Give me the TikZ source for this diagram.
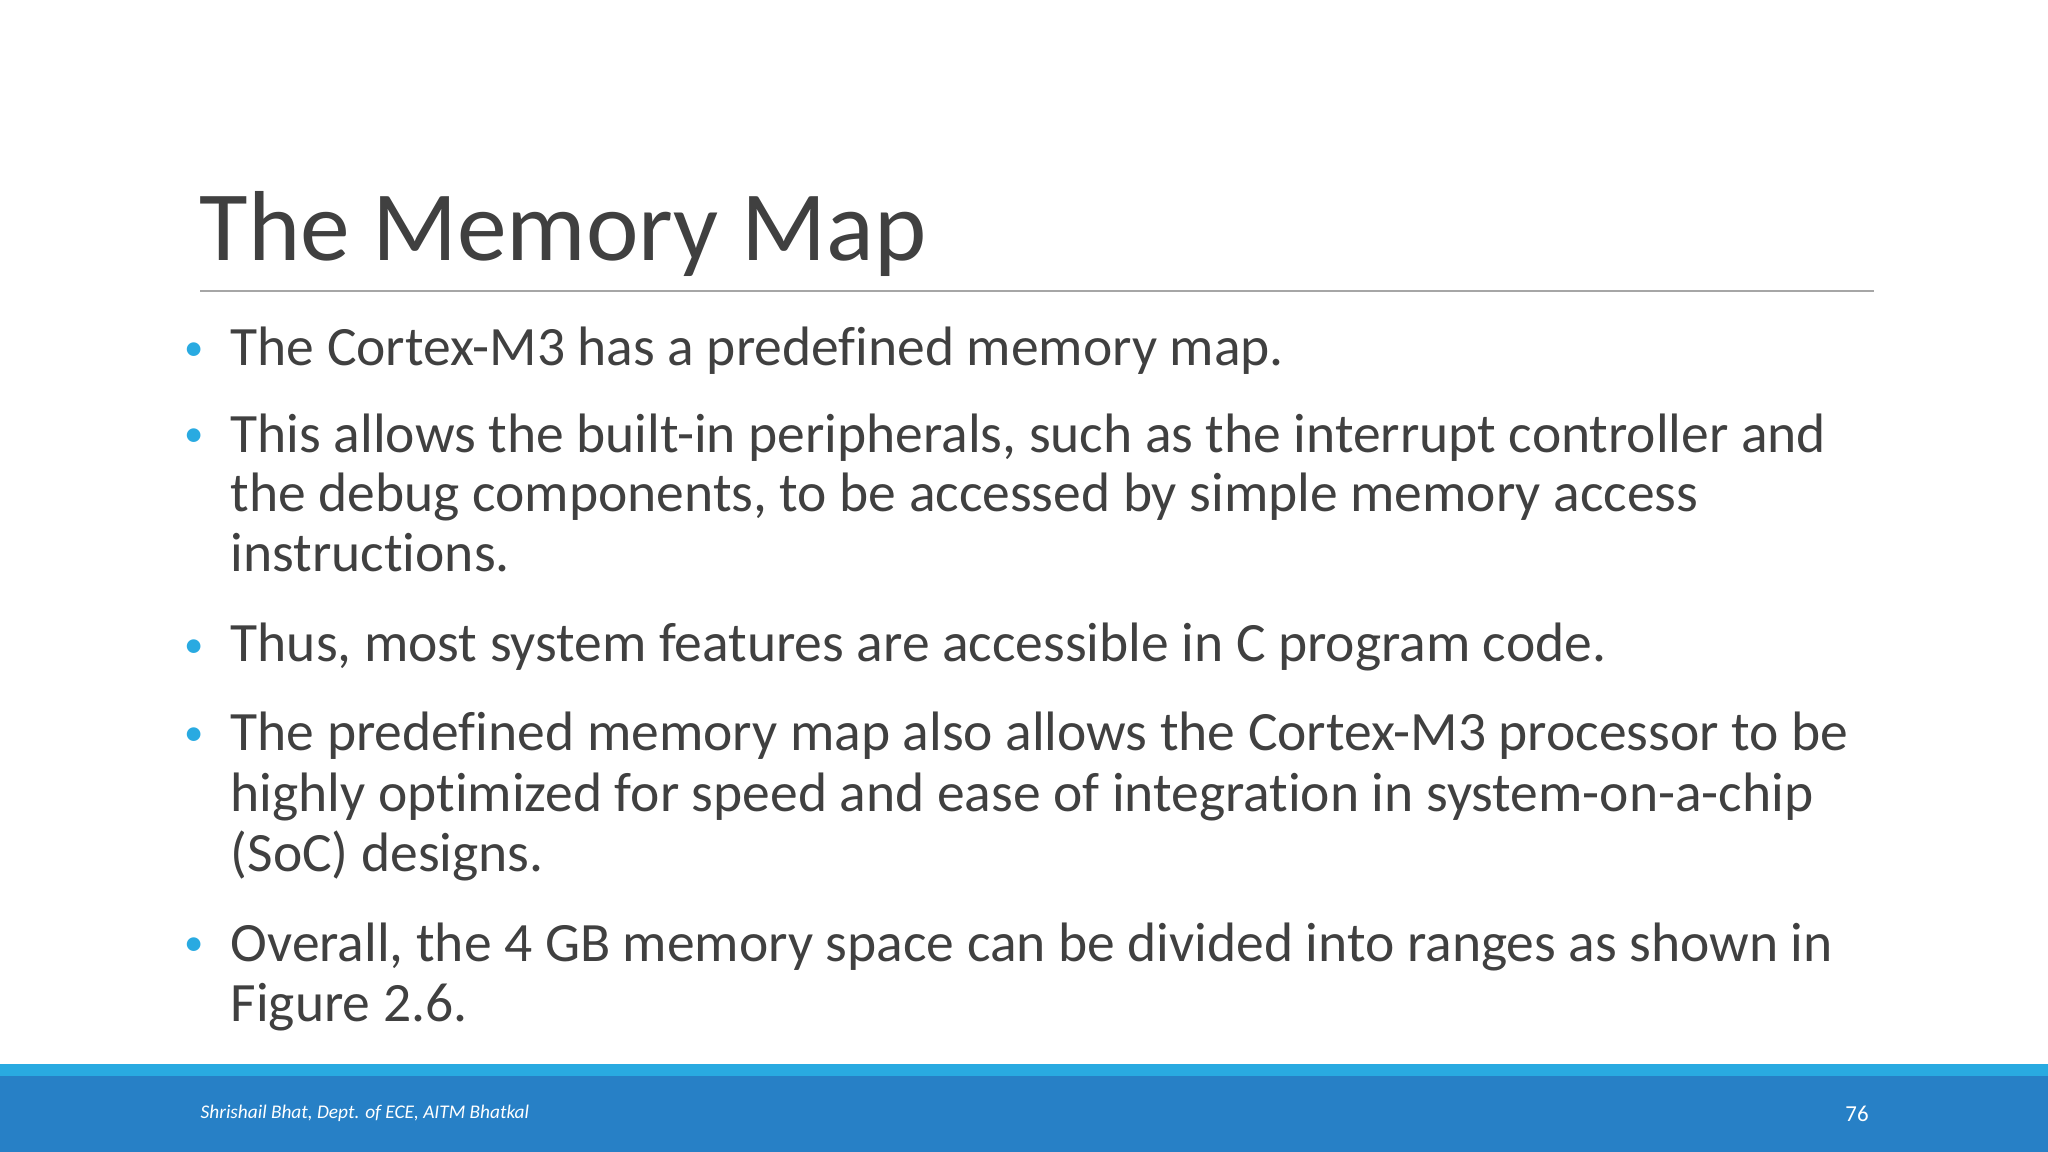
\documentclass[tikz,border=0pt]{standalone}
\usepackage{fontspec}
\setmainfont[Ligatures=NoCommon]{Carlito}
\definecolor{titlec}{HTML}{404040}
\definecolor{bodyc}{HTML}{404040}
\definecolor{lightb}{HTML}{29AAE1}
\definecolor{darkb}{HTML}{2780C6}
\tikzset{
  ln/.style={anchor=base west, inner sep=0pt, text=bodyc, font=\fontsize{15.8pt}{18pt}\selectfont},
  bul/.style={anchor=base, inner sep=0pt, text=lightb, font=\fontsize{11pt}{12pt}\selectfont}
}
\begin{document}
\begin{tikzpicture}[x=1cm,y=-1cm]
\useasboundingbox (0,0) rectangle (20.48,11.52);
\fill[white] (0,0) rectangle (20.48,11.52);
\node[anchor=base west,inner sep=0pt,text=titlec,font=\fontsize{28.3pt}{32pt}\selectfont] (title) at (1.99,2.61) {The Memory Map};
\draw[gray!70,line width=0.6pt] (2.0,2.91) -- (18.74,2.91);
\foreach \y in {3.61,4.47,6.57,7.46,9.56}{\node[bul] at (1.94,\y) {•};}
\node[ln] (l1) at (2.30,3.66) {The Cortex-M3 has a predefined memory map.};
\node[ln] (l2) at (2.30,4.52) {This allows the built-in peripherals, such as the interrupt controller and};
\node[ln] (l3) at (2.30,5.12) {the debug components, to be accessed by simple memory access};
\node[ln] (l4) at (2.30,5.72) {instructions.};
\node[ln] (l5) at (2.30,6.62) {Thus, most system features are accessible in C program code.};
\node[ln] (l6) at (2.30,7.51) {The predefined memory map also allows the Cortex-M3 processor to be};
\node[ln] (l7) at (2.30,8.11) {highly optimized for speed and ease of integration in system-on-a-chip};
\node[ln] (l8) at (2.30,8.71) {(SoC) designs.};
\node[ln] (l9) at (2.30,9.61) {Overall, the 4 GB memory space can be divided into ranges as shown in};
\node[ln] (l10) at (2.30,10.21) {Figure 2.6.};
\fill[lightb] (0,10.64) rectangle (20.48,10.76);
\fill[darkb] (0,10.76) rectangle (20.48,11.52);
\node[anchor=base west,inner sep=0pt,text=white,font=\fontsize{5.5pt}{6pt}\selectfont\itshape] (foot) at (2.0,11.18) {Shrishail Bhat, Dept. of ECE, AITM Bhatkal};
\node[anchor=base,inner sep=0pt,text=white,font=\fontsize{6.5pt}{7pt}\selectfont] (pg) at (18.57,11.21) {76};
\end{tikzpicture}
\end{document}
